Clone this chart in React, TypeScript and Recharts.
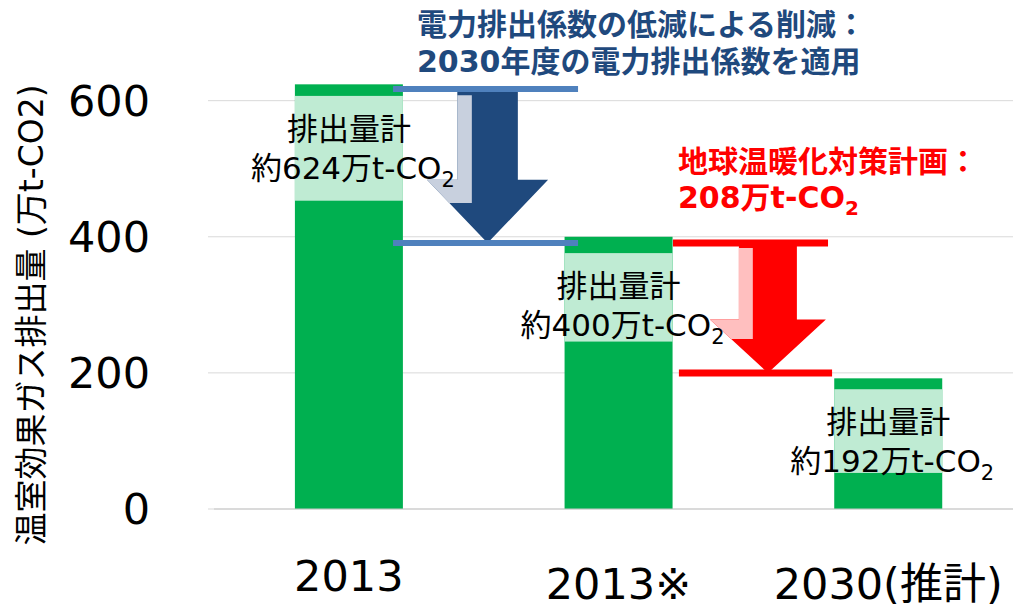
import { BarChart, Bar, XAxis, YAxis, CartesianGrid, ReferenceArea, ReferenceLine } from 'recharts'

const categories = ['2013', '2013※', '2030(推計)']
const emissions = [624, 400, 192]
const yTicks = [0, 200, 400, 600]
// light box behind each total label (value range on the y axis)
const labelBands = [[453, 607], [246, 376], [53, 176]]
// arrow levels
const powerFactorCut = [617, 391]
const planCut = [391, 200]

// slot = middle of each category band, feeds the hidden numeric axis used for annotations
const data = categories.map((c, i) => ({ year: c, value: emissions[i], slot: i + 0.5 }))

const LATIN = '"DejaVu Sans", "Noto Sans CJK JP", sans-serif'
const GREEN = '#00B050'

function CategoryTick({ x, y, payload, index }: any) {
  const dy = index === 0 ? 82 : 90
  return (
    <text x={x} y={y + dy} textAnchor="middle" fontSize={43} fontFamily={LATIN} fill="#000">
      {payload.value}
    </text>
  )
}

// bar + light label band + total text, band placed with the bar's own value scale
function TotalBar(props: any) {
  const { x, y, width, height, index } = props
  const v = emissions[index]
  const k = height / v
  const [lo, hi] = labelBands[index]
  const by = y + height - hi * k
  const bh = (hi - lo) * k
  const cx = x + width / 2
  return (
    <g>
      <rect x={x} y={y} width={width} height={height} fill={GREEN} />
      <rect x={x} y={by} width={width} height={bh} fill="#BFEBD3" />
      <text x={cx} y={by + 44} textAnchor="middle" fontSize={31} fontFamily={LATIN} fill="#000">排出量計</text>
      <text x={cx + 4} y={by + 83} textAnchor="middle" fontSize={31} fontFamily={LATIN} fill="#000">
        {`約${v}万t-CO`}
        <tspan dy={8} fontSize={21}>2</tspan>
      </text>
    </g>
  )
}

function DownArrow(dark: string, light: string) {
  return (props: any) => {
    const { x, y, width: w, height: h } = props
    const s0 = x + w * 0.25
    const s1 = x + w * 0.75
    const hy = y + h * 0.59
    const tipX = x + w / 2
    const tipY = y + h
    const lw = w * 0.12
    const top = y + h * 0.04
    const ly = y + h * 0.74
    const edgeX = x + ((ly - hy) / (tipY - hy)) * (w / 2)
    return (
      <g>
        <polygon
          points={`${s0},${y} ${s1},${y} ${s1},${hy} ${x + w},${hy} ${tipX},${tipY} ${x},${hy} ${s0},${hy}`}
          fill={dark}
        />
        <polygon
          points={`${s0},${top} ${s0 + lw},${top} ${s0 + lw},${ly} ${edgeX},${ly} ${x},${hy} ${s0},${hy}`}
          fill={light}
        />
      </g>
    )
  }
}

function AxisTitle() {
  return (
    <text
      transform="translate(31,315) rotate(-90)"
      textAnchor="middle"
      dominantBaseline="central"
      fontSize={33}
      fontFamily={LATIN}
      fill="#000"
    >
      温室効果ガス排出量 (万t-CO2)
    </text>
  )
}

export default function App() {
  return (
    <div style={{ position: 'absolute', left: 0, top: 0, width: 1013, height: 609, overflow: 'hidden', background: '#fff' }}>
      <BarChart
        width={1040}
        height={609}
        data={data}
        margin={{ top: 19, right: 17, bottom: 0, left: 0 }}
        barCategoryGap="30%"
      >
        <CartesianGrid vertical={false} stroke="#D9D9D9" horizontalValues={yTicks} />
        <XAxis
          dataKey="year"
          height={100}
          tickLine={false}
          tickSize={0}
          tickMargin={0}
          axisLine={{ stroke: '#C8C8C8' }}
          tick={<CategoryTick />}
          interval={0}
        />
        <XAxis xAxisId="n" dataKey="slot" type="number" scale="linear" domain={[0, 3]} allowDataOverflow hide />
        <YAxis
          width={214}
          domain={[0, 720]}
          ticks={yTicks}
          axisLine={false}
          tickLine={{ stroke: '#D9D9D9' }}
          tickSize={6}
          tickMargin={58}
          tick={{ fontSize: 43, fontFamily: LATIN, fill: '#000' }}
          label={<AxisTitle />}
        />

        <ReferenceArea
          xAxisId="n"
          x1={0.79}
          x2={1.239}
          y1={powerFactorCut[1]}
          y2={powerFactorCut[0]}
          ifOverflow="visible"
          shape={DownArrow('#1F497D', '#C8D0DE')}
        />
        <ReferenceArea
          xAxisId="n"
          x1={1.839}
          x2={2.269}
          y1={planCut[1]}
          y2={planCut[0]}
          ifOverflow="visible"
          shape={DownArrow('#FF0000', '#FFBFBF')}
        />

        <Bar dataKey="value" fill={GREEN} shape={<TotalBar />} isAnimationActive={false} />

        <ReferenceLine xAxisId="n" segment={[{ x: 0.664, y: powerFactorCut[0] }, { x: 1.35, y: powerFactorCut[0] }]} stroke="#4F81BD" strokeWidth={6} ifOverflow="visible" />
        <ReferenceLine xAxisId="n" segment={[{ x: 0.664, y: powerFactorCut[1] }, { x: 1.35, y: powerFactorCut[1] }]} stroke="#4F81BD" strokeWidth={6} ifOverflow="visible" />
        <ReferenceLine xAxisId="n" segment={[{ x: 1.702, y: planCut[0] }, { x: 2.277, y: planCut[0] }]} stroke="#FF0000" strokeWidth={7} ifOverflow="visible" />
        <ReferenceLine xAxisId="n" segment={[{ x: 1.724, y: planCut[1] }, { x: 2.292, y: planCut[1] }]} stroke="#FF0000" strokeWidth={7} ifOverflow="visible" />
      </BarChart>

      <div
        style={{
          position: 'absolute', left: 417, top: 6, fontFamily: LATIN, fontWeight: 'bold', fontSize: 30,
          lineHeight: '37px', color: '#1F497D', whiteSpace: 'nowrap',
        }}
      >
        電力排出係数の低減による削減：<br />2030年度の電力排出係数を適用
      </div>
      <div
        style={{
          position: 'absolute', left: 678, top: 144, fontFamily: LATIN, fontWeight: 'bold', fontSize: 30,
          lineHeight: '36px', color: '#FF0000', whiteSpace: 'nowrap',
        }}
      >
        地球温暖化対策計画：<br />208万t-CO<span style={{ fontSize: 20, position: 'relative', top: 7 }}>2</span>
      </div>
    </div>
  )
}
